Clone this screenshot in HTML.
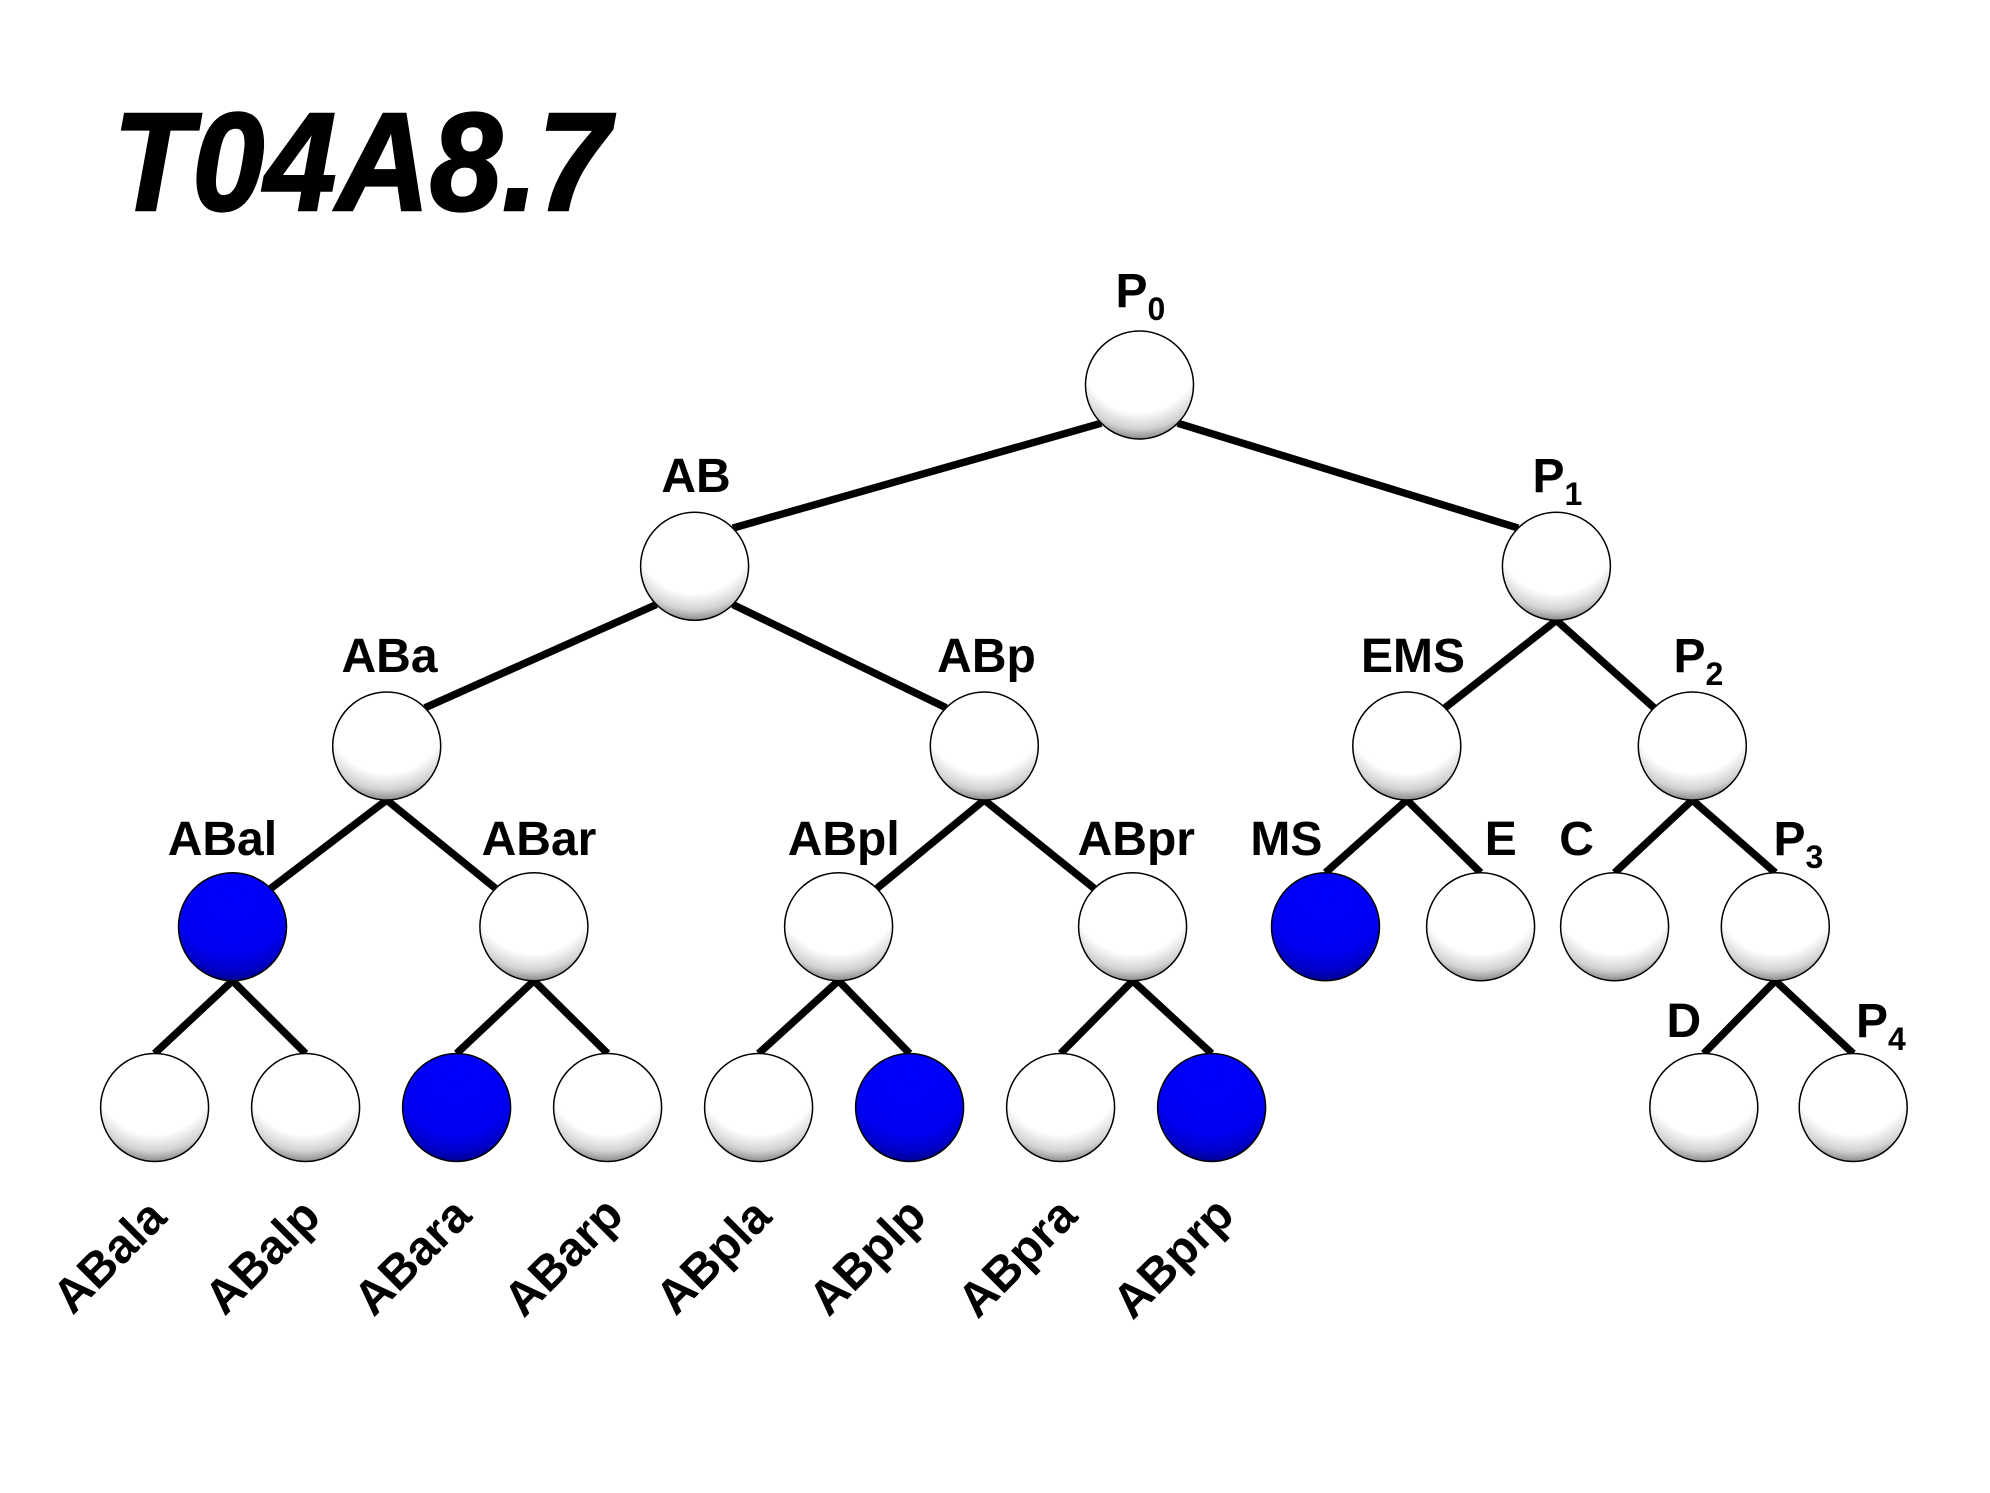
<!DOCTYPE html>
<html>
<head>
<meta charset="utf-8">
<style>
  html, body { margin: 0; padding: 0; background: #ffffff; }
  body { width: 1990px; height: 1493px; overflow: hidden; }
  svg { display: block; }
  text { font-family: "Liberation Sans", Arial, sans-serif; font-weight: bold; fill: #000; }
</style>
</head>
<body>
<svg width="1990" height="1493" viewBox="0 0 1990 1493" xmlns="http://www.w3.org/2000/svg">
  <defs>
    <radialGradient id="gw" cx="0.5" cy="0.2" r="0.86" fx="0.5" fy="0.2">
      <stop offset="0" stop-color="#ffffff"/>
      <stop offset="0.64" stop-color="#ffffff"/>
      <stop offset="0.82" stop-color="#d2d2d2"/>
      <stop offset="0.93" stop-color="#8c8c8c"/>
      <stop offset="1" stop-color="#555555"/>
    </radialGradient>
    <radialGradient id="gb" cx="0.5" cy="0.2" r="0.86" fx="0.5" fy="0.2">
      <stop offset="0" stop-color="#0000ff"/>
      <stop offset="0.64" stop-color="#0000f2"/>
      <stop offset="0.82" stop-color="#0000c8"/>
      <stop offset="0.93" stop-color="#000090"/>
      <stop offset="1" stop-color="#000050"/>
    </radialGradient>
  </defs>

  <rect width="1990" height="1493" fill="#ffffff"/>

  <!-- Title -->
  <text transform="translate(113,210) scale(0.9,0.97)" font-size="144" font-style="italic" stroke="#000" stroke-width="2.5">T04A8.7</text>

  <!-- Connectors -->
  <g stroke="#000" stroke-width="7.5" fill="none" stroke-linecap="butt">
    <line x1="1101.3" y1="423.2" x2="732.8" y2="528.1"/>
    <line x1="1177.7" y1="423.2" x2="1518.2" y2="528.1"/>

    <line x1="656.4" y1="604.5" x2="424.9" y2="707.8"/>
    <line x1="732.8" y1="604.5" x2="946.1" y2="707.8"/>
    <line x1="1556.4" y1="620.3" x2="1445" y2="707.8"/>
    <line x1="1556.4" y1="620.3" x2="1654.1" y2="707.8"/>

    <line x1="386.7" y1="800" x2="270.7" y2="888.5"/>
    <line x1="386.7" y1="800" x2="495.7" y2="888.5"/>
    <line x1="984.3" y1="800" x2="876.8" y2="888.5"/>
    <line x1="984.3" y1="800" x2="1094.4" y2="888.5"/>
    <line x1="1406.8" y1="800" x2="1325.5" y2="872.7"/>
    <line x1="1406.8" y1="800" x2="1480.6" y2="872.7"/>
    <line x1="1692.3" y1="800" x2="1614.6" y2="872.7"/>
    <line x1="1692.3" y1="800" x2="1775.3" y2="872.7"/>

    <line x1="232.5" y1="980.7" x2="154.6" y2="1053.5"/>
    <line x1="232.5" y1="980.7" x2="305.6" y2="1053.5"/>
    <line x1="533.9" y1="980.7" x2="456.6" y2="1053.5"/>
    <line x1="533.9" y1="980.7" x2="607.6" y2="1053.5"/>
    <line x1="838.6" y1="980.7" x2="758.6" y2="1053.5"/>
    <line x1="838.6" y1="980.7" x2="909.6" y2="1053.5"/>
    <line x1="1132.6" y1="980.7" x2="1060.6" y2="1053.5"/>
    <line x1="1132.6" y1="980.7" x2="1211.6" y2="1053.5"/>
    <line x1="1775.3" y1="980.7" x2="1703.8" y2="1053.5"/>
    <line x1="1775.3" y1="980.7" x2="1853.2" y2="1053.5"/>
  </g>

  <!-- Nodes -->
  <g stroke="#000" stroke-width="1.5">
    <circle cx="1139.5" cy="385" r="54" fill="url(#gw)"/>

    <circle cx="694.6" cy="566.3" r="54" fill="url(#gw)"/>
    <circle cx="1556.4" cy="566.3" r="54" fill="url(#gw)"/>

    <circle cx="386.7" cy="746" r="54" fill="url(#gw)"/>
    <circle cx="984.3" cy="746" r="54" fill="url(#gw)"/>
    <circle cx="1406.8" cy="746" r="54" fill="url(#gw)"/>
    <circle cx="1692.3" cy="746" r="54" fill="url(#gw)"/>

    <circle cx="232.5" cy="926.7" r="54" fill="url(#gb)"/>
    <circle cx="533.9" cy="926.7" r="54" fill="url(#gw)"/>
    <circle cx="838.6" cy="926.7" r="54" fill="url(#gw)"/>
    <circle cx="1132.6" cy="926.7" r="54" fill="url(#gw)"/>
    <circle cx="1325.5" cy="926.7" r="54" fill="url(#gb)"/>
    <circle cx="1480.6" cy="926.7" r="54" fill="url(#gw)"/>
    <circle cx="1614.6" cy="926.7" r="54" fill="url(#gw)"/>
    <circle cx="1775.3" cy="926.7" r="54" fill="url(#gw)"/>

    <circle cx="154.6" cy="1107.5" r="54" fill="url(#gw)"/>
    <circle cx="305.6" cy="1107.5" r="54" fill="url(#gw)"/>
    <circle cx="456.6" cy="1107.5" r="54" fill="url(#gb)"/>
    <circle cx="607.6" cy="1107.5" r="54" fill="url(#gw)"/>
    <circle cx="758.6" cy="1107.5" r="54" fill="url(#gw)"/>
    <circle cx="909.6" cy="1107.5" r="54" fill="url(#gb)"/>
    <circle cx="1060.6" cy="1107.5" r="54" fill="url(#gw)"/>
    <circle cx="1211.6" cy="1107.5" r="54" fill="url(#gb)"/>
    <circle cx="1703.8" cy="1107.5" r="54" fill="url(#gw)"/>
    <circle cx="1853.2" cy="1107.5" r="54" fill="url(#gw)"/>
  </g>

  <!-- Labels -->
  <g font-size="48">
    <text x="1115.5" y="307">P<tspan font-size="32" dy="13">0</tspan></text>

    <text x="696" y="492" text-anchor="middle">AB</text>
    <text x="1532.5" y="492">P<tspan font-size="32" dy="13">1</tspan></text>

    <text x="389.5" y="672" text-anchor="middle">ABa</text>
    <text x="986.5" y="672" text-anchor="middle">ABp</text>
    <text x="1413" y="672" text-anchor="middle">EMS</text>
    <text x="1673.5" y="672">P<tspan font-size="32" dy="13">2</tspan></text>

    <text x="222.4" y="855" text-anchor="middle">ABal</text>
    <text x="539" y="855" text-anchor="middle">ABar</text>
    <text x="843.7" y="855" text-anchor="middle">ABpl</text>
    <text x="1136.3" y="855" text-anchor="middle">ABpr</text>
    <text x="1286.4" y="855" text-anchor="middle">MS</text>
    <text x="1500.8" y="855" text-anchor="middle">E</text>
    <text x="1576.6" y="855" text-anchor="middle">C</text>
    <text x="1773.5" y="855">P<tspan font-size="32" dy="13">3</tspan></text>

    <text x="1683.8" y="1037" text-anchor="middle">D</text>
    <text x="1856" y="1037">P<tspan font-size="32" dy="13">4</tspan></text>

    <!-- Rotated bottom labels -->
    <text transform="translate(72.6,1316) rotate(-45)">ABala</text>
    <text transform="translate(224.6,1317) rotate(-45)">ABalp</text>
    <text transform="translate(373.6,1318) rotate(-45)">ABara</text>
    <text transform="translate(523.6,1319) rotate(-45)">ABarp</text>
    <text transform="translate(675.6,1317) rotate(-45)">ABpla</text>
    <text transform="translate(828.6,1318) rotate(-45)">ABplp</text>
    <text transform="translate(977.6,1320) rotate(-45)">ABpra</text>
    <text transform="translate(1132.6,1321) rotate(-45)">ABprp</text>
  </g>
</svg>
</body>
</html>
